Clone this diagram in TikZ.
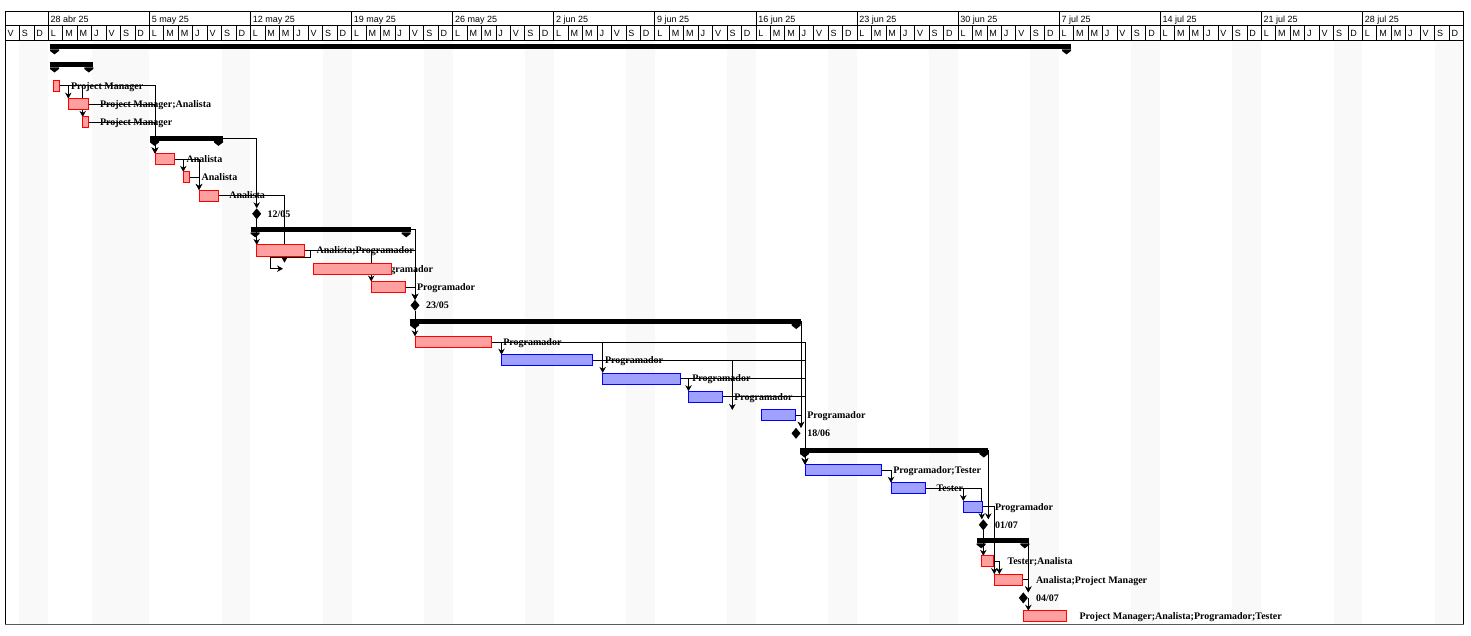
\documentclass[tikz,border=0pt]{standalone}
\usepackage{fontspec}
\setmainfont{Liberation Serif}
\setsansfont{Liberation Sans}
\usepackage{tikz}
\usetikzlibrary{arrows.meta, shapes.geometric}
\definecolor{barred}{RGB}{255,160,160}
\definecolor{edgered}{RGB}{255,0,0}
\definecolor{barblue}{RGB}{160,160,255}
\definecolor{edgeblue}{RGB}{0,0,255}
\definecolor{wkend}{RGB}{249,249,249}
\definecolor{framegray}{RGB}{90,90,90}

\pgfdeclarelayer{back}
\pgfdeclarelayer{links}
\pgfsetlayers{back,links,main}

% end caps of a summary bar
\newcommand{\sumcaps}[1]{%
  \fill (#1.south west) -- ++(0,1.5) -- ++(4.5,3.5) -- ++(4.5,-3.5) -- ++(0,-1.5) -- cycle;
  \fill (#1.south east) -- ++(0,1.5) -- ++(-4.5,3.5) -- ++(-4.5,-3.5) -- ++(0,-1.5) -- cycle;}

\begin{document}
\begin{tikzpicture}[
    x=1pt, y=-1pt,
    every node/.style={inner sep=0pt, outer sep=0pt},
    redtask/.style={draw=edgered, fill=barred, line width=0.8pt,
                    minimum height=11pt, anchor=west},
    bluetask/.style={draw=edgeblue, fill=barblue, line width=0.8pt,
                     minimum height=11pt, anchor=west},
    sumbar/.style={fill=black, minimum height=5pt, anchor=west},
    mstone/.style={diamond, fill=black, minimum width=9pt, minimum height=11pt},
    lbl/.style={font=\fontsize{10}{12}\selectfont\bfseries, anchor=base west},
    hdr/.style={font=\sffamily\fontsize{9}{10}\selectfont, anchor=base west},
    arr/.style={-{Stealth[length=6pt, width=6.5pt]}, line width=0.8pt},
    grid/.style={line width=0.7pt},
]
\useasboundingbox (0,0) rectangle (1471,636);

\begin{pgfonlayer}{back}
% ===== weekends and holidays =====
\fill[wkend] ({5+14.44*1},40) rectangle ({5+14.44*3},624);
\fill[wkend] ({5+14.44*6},40) rectangle ({5+14.44*10},624);
\foreach \w in {1,...,13}
  \fill[wkend] ({5+14.44*(8+7*\w)},40) rectangle ({5+14.44*(10+7*\w)},624);

% ===== time scale =====
\draw[grid] (5,11.5) rectangle (1463.5,40);
\draw[grid] (5,25) -- (1463.5,25);
\foreach \w in {0,...,13}
  \draw[grid] ({48.3+101.08*\w},11.5) -- ++(0,13.5);
\foreach \d in {1,...,100}
  \draw[grid] ({5+14.44*\d},25) -- ++(0,15);
\foreach \lab [count=\i from 0] in {28 abr 25, 5 may 25, 12 may 25, 19 may 25,
    26 may 25, 2 jun 25, 9 jun 25, 16 jun 25, 23 jun 25, 30 jun 25,
    7 jul 25, 14 jul 25, 21 jul 25, 28 jul 25}
  \node[hdr] (wk\i) at ({48.3+101.08*\i+2.4},23) {\lab};
\foreach \w in {0,...,14} {
  \foreach \l [count=\i from 0] in {V,S,D,L,M,M,J} {
    \pgfmathtruncatemacro\d{7*\w+\i}
    \ifnum\d<101 \node[hdr] (dy\d) at ({5+14.44*\d+2.5},36.5) {\l}; \fi
  }
}

% chart frame
\draw[grid] (5,40) -- (5,624);
\draw[line width=1.3pt] (1463.5,11.5) -- (1463.5,624);
\draw[line width=1.5pt, framegray] (5,624.5) -- (1464,624.5);
\end{pgfonlayer}

% ===== task bars =====
\node[redtask, minimum width=5.8pt]  (t3)  at (53.5, 85.8) {};
\node[redtask, minimum width=19.7pt] (t4)  at (68.3, 104.1) {};
\node[redtask, minimum width=5.6pt]  (t5)  at (82.7, 122.4) {};
\node[redtask, minimum width=19.3pt] (t7)  at (155, 159.0) {};
\node[redtask, minimum width=6pt]    (t8)  at (183.3, 177.3) {};
\node[redtask, minimum width=19.3pt] (t9)  at (199, 195.5) {};
\node[redtask, minimum width=47.5pt] (t12) at (256.5, 250.4) {};
\node[redtask, minimum width=78pt]   (t13) at (313.5, 268.7) {};
\node[redtask, minimum width=34.3pt] (t14) at (371.2, 287.0) {};
\node[redtask, minimum width=76.7pt] (t17) at (415, 341.9) {};
\node[bluetask, minimum width=91.2pt] (t18) at (501.5, 360.2) {};
\node[bluetask, minimum width=78pt]   (t19) at (602.7, 378.4) {};
\node[bluetask, minimum width=34.2pt] (t20) at (688.5, 396.7) {};
\node[bluetask, minimum width=33.3pt] (t21) at (761.7, 415.0) {};
\node[bluetask, minimum width=76.7pt] (t24) at (805, 469.9) {};
\node[bluetask, minimum width=34.7pt] (t25) at (891, 488.2) {};
\node[bluetask, minimum width=19pt]   (t26) at (963.3, 506.5) {};
\node[redtask, minimum width=12.3pt] (t29) at (981, 561.3) {};
\node[redtask, minimum width=28.4pt] (t30) at (994.3, 579.6) {};
\node[redtask, minimum width=43.4pt] (t32) at (1023.3, 616.2) {};

% summaries
\node[sumbar, minimum width=1021pt]  (s1)  at (50, 46.9) {};
\node[sumbar, minimum width=43.3pt]  (s2)  at (50, 65.0) {};
\node[sumbar, minimum width=73pt]    (s6)  at (150, 138.4) {};
\node[sumbar, minimum width=160pt]   (s11) at (250.7, 229.8) {};
\node[sumbar, minimum width=390.7pt] (s16) at (410, 321.5) {};
\node[sumbar, minimum width=188.3pt] (s23) at (800, 450.0) {};
\node[sumbar, minimum width=52.6pt]  (s28) at (976.7, 540.8) {};
\sumcaps{s1} \sumcaps{s2} \sumcaps{s6} \sumcaps{s11}
\sumcaps{s16} \sumcaps{s23} \sumcaps{s28}

% milestones
\node[mstone] (m10) at (256.7, 213.8) {};
\node[mstone] (m15) at (415, 305.3) {};
\node[mstone] (m22) at (796, 433.3) {};
\node[mstone] (m27) at (983.3, 524.8) {};
\node[mstone] (m31) at (1023.3, 597.9) {};

\coordinate (c13) at (284.5, 268.7);
\coordinate (c21) at (732.3, 415.0);
\coordinate (m31r) at ([xshift=5pt]m31.center);

\begin{pgfonlayer}{links}
% ===== dependency links =====
\draw[arr] (t3.east) -| (t4.north west);
\draw[arr] (t3.east) -| (t5.north west);
\draw[arr] (t3.east) -| (t7.north west);
\draw[arr] (t4.east) -| (t7.north west);
\draw[arr] (t5.east) -| (t7.north west);
\draw[arr] (t7.east) -| (t8.north west);
\draw[arr] (t7.east) -| (t9.north west);
\draw[arr] (t8.east) -| (t9.north west);
\draw[arr] (s6.east) -| (m10.north);
\draw[arr] (t9.east) -| ([yshift=6pt]c13);
\draw[arr] (m10.south) -- (m10.south |- t12.north);
\draw[arr] (t12.east) -- ++(6,0) -- ++(0,7) -| ([xshift=-14pt]c13) -- ([xshift=-1.5pt]c13);
\draw[arr] (t12.east) -| (t14.north west);
\draw[arr] (t12.east) -| (m15.north);
\draw[arr] (s11.east) -| (m15.north);
\draw[arr] (t14.east) -| (m15.north);
\draw[arr] (m15.south) -- (m15.south |- t17.north);
\draw[arr] (t17.east) -| (t18.north west);
\draw[arr] (t17.east) -| (t19.north west);
\draw[arr] (t17.east) -| (t24.north west);
\draw[arr] (t18.east) -| ([yshift=5pt]c21);
\draw[arr] (t18.east) -| (t24.north west);
\draw[arr] (t19.east) -| (t20.north west);
\draw[arr] (t19.east) -| (t24.north west);
\draw[arr] (t20.east) -| (t24.north west);
\draw[arr] (s16.east) -| ([xshift=5pt]m22.north);
\draw[arr] (t21.east) -| ([xshift=5pt]m22.north);
\draw[arr] (t24.east) -| (t25.north west);
\draw[arr] (t25.east) -| (t26.north west);
\draw[arr] (t25.east) -| ([xshift=-1.5pt]m27.north);
\draw[arr] (s23.east) -| ([xshift=5pt]m27.north);
\draw[arr] (t26.east) -| (t30.north west);
\draw[arr] (m27.south) -- (m27.south |- t29.north);
\draw[arr] (t29.east) -| ([xshift=5pt]t30.north west);
\draw[arr] (s28.east) -| ([xshift=5pt]m31.north);
\draw[arr] (t30.east) -| ([xshift=5pt]m31.north);
\draw[arr] (m31r) -- (m31r |- t32.north);

% ===== resource labels =====
\node[lbl] (l3)  at (71, 89.3)    {Project Manager};
\node[lbl] (l4)  at (100, 107.6)  {Project Manager;Analista};
\node[lbl] (l5)  at (100, 125.9)  {Project Manager};
\node[lbl] (l7)  at (186.7, 162.5) {Analista};
\node[lbl] (l8)  at (201.7, 180.8) {Analista};
\node[lbl] (l9)  at (229.3, 199.0) {Analista};
\node[lbl] (l10) at (267.5, 217.3) {12/05};
\node[lbl] (l12) at (316.7, 253.9) {Analista;Programador};
\node[lbl] (l13) at (375, 272.2)   {Programador};
\node[lbl] (l14) at (417, 290.5)   {Programador};
\node[lbl] (l15) at (426, 308.8)   {23/05};
\node[lbl] (l17) at (503.3, 345.4) {Programador};
\node[lbl] (l18) at (605, 363.7)   {Programador};
\node[lbl] (l19) at (692.3, 381.9) {Programador};
\node[lbl] (l20) at (734.3, 400.2) {Programador};
\node[lbl] (l21) at (807.3, 418.5) {Programador};
\node[lbl] (l22) at (807.3, 436.8) {18/06};
\node[lbl] (l24) at (893.3, 473.4) {Programador;Tester};
\node[lbl] (l25) at (936.7, 491.7) {Tester};
\node[lbl] (l26) at (995, 510.0)   {Programador};
\node[lbl] (l27) at (995, 528.3)   {01/07};
\node[lbl] (l29) at (1007.5, 564.8) {Tester;Analista};
\node[lbl] (l30) at (1036, 583.1)  {Analista;Project Manager};
\node[lbl] (l31) at (1036, 601.4)  {04/07};
\node[lbl] (l32) at (1079.5, 619.7) {Project Manager;Analista;Programador;Tester};
\end{pgfonlayer}

\end{tikzpicture}
\end{document}
